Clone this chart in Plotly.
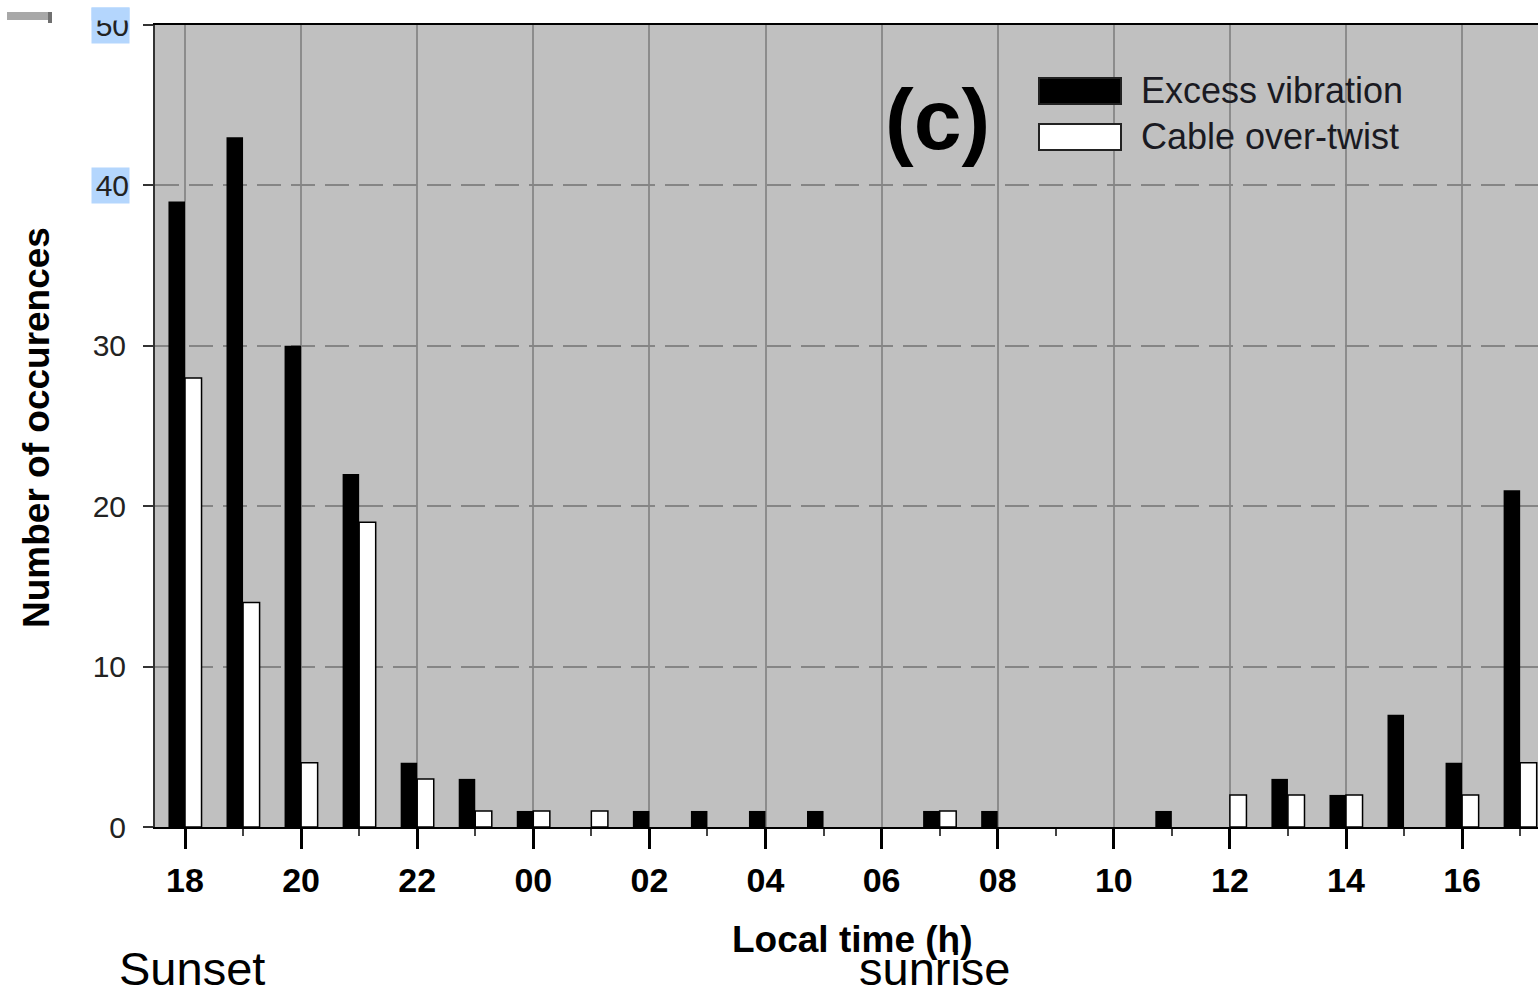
import plotly.graph_objects as go

# Hourly counts, starting at 18 h local time and wrapping round to 17 h
hours = ["18", "19", "20", "21", "22", "23", "00", "01", "02", "03", "04", "05",
         "06", "07", "08", "09", "10", "11", "12", "13", "14", "15", "16", "17"]
excess_vibration = [39, 43, 30, 22, 4, 3, 1, 0, 1, 1, 1, 1,
                    0, 1, 1, 0, 0, 1, 0, 3, 2, 7, 4, 21]
cable_over_twist = [28, 14, 4, 19, 3, 1, 1, 1, 0, 0, 0, 0,
                    0, 1, 0, 0, 0, 0, 2, 2, 2, 0, 2, 4]
y_ticks = [0, 10, 20, 30, 40, 50]
highlighted_y_ticks = [40, 50]

pos = list(range(len(hours)))
major_pos = pos[::2]
minor_pos = pos[1::2]
major_text = hours[::2]

FONT = "Liberation Sans, Arial, sans-serif"
HILITE = "#b4d6fd"

# no outline on empty bars, so nothing is drawn for a zero count
white_outline = [1.5 if v > 0 else 0 for v in cable_over_twist]

fig = go.Figure()
fig.add_trace(go.Bar(x=pos, y=excess_vibration, name="Excess vibration",
                     marker=dict(color="black", line=dict(color="black", width=0))))
fig.add_trace(go.Bar(x=pos, y=cable_over_twist, name="Cable over-twist",
                     marker=dict(color="white", line=dict(color="black", width=white_outline))))

W, H = 1538, 988
L, R, T, B = 155, 0, 25, 161
plot_w = W - L - R
plot_h = H - T - B
unit = 58.05  # px per hour
x_lo = -(185 - L) / unit
x_hi = x_lo + plot_w / unit


def px_x(px):
    return (px - L) / plot_w


def px_y(py):
    return (H - B - py) / plot_h


fig.update_layout(
    width=W, height=H,
    margin=dict(l=L, r=R, t=T, b=B),
    paper_bgcolor="white",
    plot_bgcolor="#c0c0c0",
    barmode="group", bargap=0.43, bargroupgap=0.0,
    showlegend=False,
    font=dict(family=FONT, color="#111"),
)

fig.update_xaxes(
    range=[x_lo, x_hi],
    tickmode="array", tickvals=major_pos, ticktext=major_text,
    tickfont=dict(family=FONT, size=34, color="black", weight="bold"),
    ticks="outside", ticklen=20, tickwidth=3, tickcolor="black",
    ticklabelstandoff=2,
    showgrid=True, gridcolor="#8c8c8c", gridwidth=2,
    showline=True, linecolor="black", linewidth=2, mirror=True,
    zeroline=False,
    minor=dict(tickmode="array", tickvals=minor_pos, ticks="outside",
               ticklen=7, tickwidth=2, tickcolor="#444", showgrid=False),
)

y_text = ["" if v in highlighted_y_ticks else str(v) for v in y_ticks]
fig.update_yaxes(
    range=[0, 50],
    tickmode="array", tickvals=y_ticks, ticktext=y_text,
    tickfont=dict(family=FONT, size=30, color="#222"),
    ticks="outside", ticklen=10, tickwidth=2, tickcolor="#333",
    ticklabelstandoff=11,
    showgrid=True, gridcolor="#858585", gridwidth=2, griddash="24px,10px",
    showline=True, linecolor="#333", linewidth=2, mirror=False,
    zeroline=False,
)

annotations = []
# highlighted tick labels
for v in highlighted_y_ticks:
    annotations.append(dict(
        x=px_x(130), xref="paper", xanchor="right", y=v, yref="y", yanchor="middle",
        text=str(v), showarrow=False, align="right", width=37, height=35,
        borderpad=0, bgcolor=HILITE,
        font=dict(family=FONT, size=30, color="#222")))
# the top label sits partly under the highlight strip
annotations.append(dict(
    x=px_x(130), xref="paper", xanchor="right", y=50, yref="y", yanchor="middle",
    yshift=11, text=" ", showarrow=False, width=37, height=12, borderpad=0,
    bgcolor=HILITE, font=dict(size=8)))

# panel label
annotations.append(dict(
    x=px_x(937), y=px_y(119), xref="paper", yref="paper",
    xanchor="center", yanchor="middle", text="(c)", showarrow=False,
    font=dict(family=FONT, size=86, color="black", weight="bold")))

# legend
legend_rows = [("Excess vibration", "black", 91), ("Cable over-twist", "white", 137)]
shapes = []
for label, fill, cy in legend_rows:
    shapes.append(dict(type="rect", xref="paper", yref="paper",
                       x0=px_x(1039), x1=px_x(1121), y0=px_y(cy + 13), y1=px_y(cy - 13),
                       fillcolor=fill, line=dict(color="#222", width=2), layer="above"))
    annotations.append(dict(
        x=px_x(1139), y=px_y(cy), xref="paper", yref="paper",
        xanchor="left", yanchor="middle", text=label, showarrow=False,
        font=dict(family=FONT, size=36, color="#1a1a22")))

# axis titles
annotations.append(dict(
    x=px_x(37), y=px_y(428), xref="paper", yref="paper", textangle=-90,
    xanchor="center", yanchor="middle", text="Number of occurences", showarrow=False,
    font=dict(family=FONT, size=37, color="black", weight="bold")))
annotations.append(dict(
    x=px_x(852), y=px_y(939), xref="paper", yref="paper",
    xanchor="center", yanchor="middle", text="Local time (h)", showarrow=False,
    font=dict(family=FONT, size=37, color="black", weight="bold")))

# day markers
annotations.append(dict(
    x=px_x(192), y=px_y(968), xref="paper", yref="paper",
    xanchor="center", yanchor="middle", text="Sunset", showarrow=False,
    font=dict(family=FONT, size=47, color="black")))
annotations.append(dict(
    x=px_x(935), y=px_y(968), xref="paper", yref="paper",
    xanchor="center", yanchor="middle", text="sunrise", showarrow=False,
    font=dict(family=FONT, size=47, color="black")))

# small grey bar in the top-left corner
shapes.append(dict(type="rect", xref="paper", yref="paper",
                   x0=px_x(7), x1=px_x(50), y0=px_y(20), y1=px_y(12),
                   fillcolor="#a8a8a8", line=dict(width=0)))
shapes.append(dict(type="rect", xref="paper", yref="paper",
                   x0=px_x(48), x1=px_x(52), y0=px_y(23), y1=px_y(12),
                   fillcolor="#707070", line=dict(width=0)))

fig.update_layout(annotations=annotations, shapes=shapes)

fig.write_html("out.html")
